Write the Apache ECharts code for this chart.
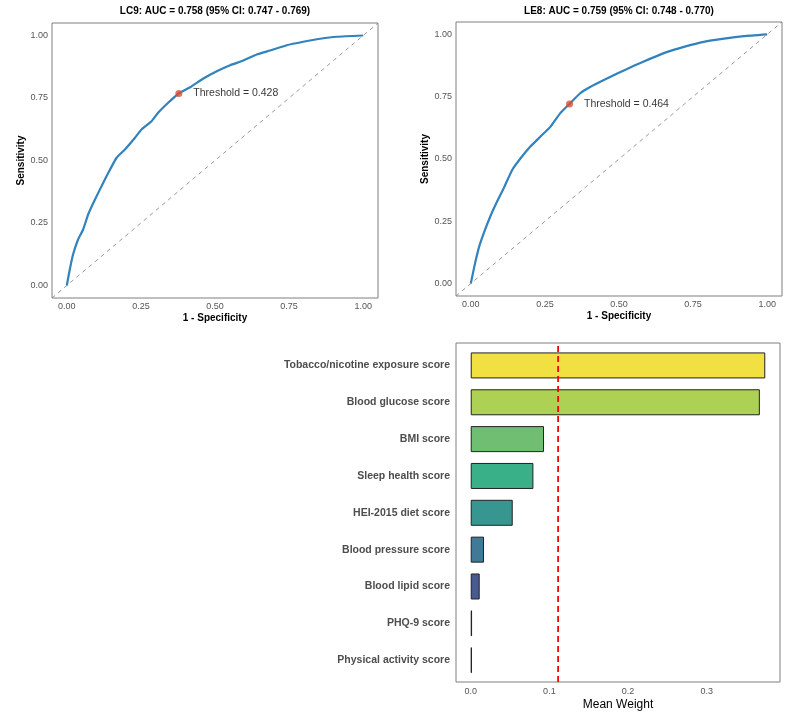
<!DOCTYPE html>
<html>
<head>
<meta charset="utf-8">
<script src="https://cdn.jsdelivr.net/npm/echarts@6/dist/echarts.min.js"></script>
<style>
    html, body { margin: 0; padding: 0; background: #fff; }
    #main { width: 787px; height: 724px; }
</style>
</head>
<body>
<div id="main"></div>
<script>
// ROC curve for LC9 (1 - specificity / sensitivity)
var lc9Fpr = [0, 0.010, 0.021, 0.038, 0.055, 0.072, 0.095, 0.123, 0.140, 0.168, 0.196, 0.230, 0.252, 0.286, 0.308, 0.342, 0.378, 0.416, 0.461, 0.506, 0.551, 0.596, 0.641, 0.686, 0.742, 0.798, 0.855, 0.911, 1];
var lc9Tpr = [0, 0.064, 0.124, 0.184, 0.224, 0.284, 0.344, 0.411, 0.451, 0.511, 0.544, 0.591, 0.624, 0.657, 0.691, 0.731, 0.768, 0.793, 0.828, 0.857, 0.881, 0.900, 0.924, 0.940, 0.961, 0.975, 0.987, 0.995, 1];
var lc9Cut = [0.378, 0.768];
var lc9Threshold = 0.428;
var lc9Title = 'LC9: AUC = 0.758 (95% CI: 0.747 - 0.769)';

// ROC curve for LE8
var le8Fpr = [0, 0.012, 0.027, 0.044, 0.066, 0.089, 0.111, 0.140, 0.168, 0.201, 0.235, 0.269, 0.302, 0.333, 0.369, 0.404, 0.449, 0.494, 0.550, 0.606, 0.663, 0.719, 0.786, 0.854, 0.921, 1];
var le8Tpr = [0, 0.069, 0.143, 0.203, 0.270, 0.330, 0.383, 0.457, 0.503, 0.550, 0.590, 0.630, 0.684, 0.721, 0.764, 0.790, 0.817, 0.843, 0.874, 0.903, 0.930, 0.950, 0.970, 0.983, 0.993, 1];
var le8Cut = [0.333, 0.721];
var le8Threshold = 0.464;
var le8Title = 'LE8: AUC = 0.759 (95% CI: 0.748 - 0.770)';

var rocTicks = [0, 0.25, 0.5, 0.75, 1];

// feature weights
var features = ['Tobacco/nicotine exposure score', 'Blood glucose score', 'BMI score', 'Sleep health score',
    'HEI-2015 diet score', 'Blood pressure score', 'Blood lipid score', 'PHQ-9 score', 'Physical activity score'];
var weights = [0.3745, 0.3676, 0.0932, 0.0797, 0.0534, 0.0169, 0.0114, 0.0017, 0.0015];
var barColors = ['#F0E042', '#ADD152', '#6FBE71', '#3AB089', '#37968F', '#407A96', '#485A8F', '#452E6E', '#421450'];
var weightTicks = [0, 0.1, 0.2, 0.3];

var FONT = 'Liberation Sans, Arial, sans-serif';

function zip(a, b) {
    var out = [];
    for (var i = 0; i < a.length; i++) out.push([a[i], b[i]]);
    return out;
}

var meanWeight = weights.reduce(function (s, v) { return s + v; }, 0) / weights.length;
var wMax = Math.max.apply(null, weights);
var wPad = wMax * 0.05;

var barData = weights.map(function (v, i) {
    return { value: v, itemStyle: { color: barColors[i] } };
});

function rocX(grid) {
    return {
        type: 'value', gridIndex: grid, min: -0.05, max: 1.05,
        axisLine: { show: false }, axisTick: { show: false }, splitLine: { show: false },
        axisLabel: { customValues: rocTicks, formatter: function (v) { return v.toFixed(2); }, fontSize: 9, color: '#555', margin: 4, fontFamily: FONT },
        name: '1 - Specificity', nameLocation: 'middle', nameGap: 15,
        nameTextStyle: { fontSize: 10, fontWeight: 'bold', color: '#000', fontFamily: FONT }
    };
}
function rocY(grid) {
    return {
        type: 'value', gridIndex: grid, min: -0.05, max: 1.05,
        axisLine: { show: false }, axisTick: { show: false }, splitLine: { show: false },
        axisLabel: { customValues: rocTicks, formatter: function (v) { return v.toFixed(2); }, fontSize: 9, color: '#555', margin: 4, fontFamily: FONT },
        name: 'Sensitivity', nameLocation: 'middle', nameGap: 23,
        nameTextStyle: { fontSize: 10, fontWeight: 'bold', color: '#000', fontFamily: FONT }
    };
}

function rocSeries(grid, fpr, tpr, cut, thr) {
    return [{
        // reference diagonal
        type: 'line', xAxisIndex: grid, yAxisIndex: grid, symbol: 'none', silent: true,
        data: [[-0.05, -0.05], [1.05, 1.05]],
        lineStyle: { color: '#8C8C8C', width: 0.9, type: [4, 4] }
    }, {
        type: 'line', xAxisIndex: grid, yAxisIndex: grid, symbol: 'none', smooth: 0.15,
        data: zip(fpr, tpr),
        lineStyle: { color: '#3182BD', width: 2.2 }
    }, {
        type: 'scatter', xAxisIndex: grid, yAxisIndex: grid, symbolSize: 7, z: 5,
        itemStyle: { color: '#DE4B33' },
        data: [cut],
        label: {
            show: true, position: 'right', distance: 11,
            formatter: 'Threshold = ' + thr.toFixed(3),
            fontSize: 10.5, color: '#000', fontFamily: FONT
        }
    }];
}

var chart = echarts.init(document.getElementById('main'));
var option = {
    animation: false,
    backgroundColor: '#fff',
    title: [{
        text: lc9Title, left: 215, top: 6, textAlign: 'center', padding: 0,
        textStyle: { fontSize: 10, fontWeight: 'bold', color: '#000', fontFamily: FONT }
    }, {
        text: le8Title, left: 619, top: 6, textAlign: 'center', padding: 0,
        textStyle: { fontSize: 10, fontWeight: 'bold', color: '#000', fontFamily: FONT }
    }],
    grid: [
        { left: 52, top: 23, width: 326, height: 275, show: true, borderColor: '#7F7F7F', borderWidth: 1 },
        { left: 456, top: 22, width: 326, height: 274, show: true, borderColor: '#7F7F7F', borderWidth: 1 },
        { left: 456, top: 343, width: 324, height: 339, show: true, borderColor: '#7F7F7F', borderWidth: 1 },
        { left: 456, top: 347, width: 324, height: 331.6 }
    ],
    xAxis: [
        rocX(0),
        rocX(1),
        {
            type: 'value', gridIndex: 2, min: -wPad, max: wMax + wPad,
            axisLine: { show: false }, axisTick: { show: false }, splitLine: { show: false },
            axisLabel: { customValues: weightTicks, formatter: function (v) { return v.toFixed(1); }, fontSize: 9, color: '#555', margin: 5, fontFamily: FONT },
            name: 'Mean Weight', nameLocation: 'middle', nameGap: 17,
            nameTextStyle: { fontSize: 12, color: '#000', fontFamily: FONT }
        },
        { type: 'value', gridIndex: 3, min: -wPad, max: wMax + wPad, show: false }
    ],
    yAxis: [
        rocY(0),
        rocY(1),
        { type: 'value', gridIndex: 2, min: 0, max: 1, show: false },
        {
            type: 'category', gridIndex: 3, data: features, inverse: true,
            axisLine: { show: false }, axisTick: { show: false }, splitLine: { show: false },
            axisLabel: { fontSize: 10.5, fontWeight: 'bold', color: '#4D4D4D', margin: 6, fontFamily: FONT }
        }
    ],
    series: rocSeries(0, lc9Fpr, lc9Tpr, lc9Cut, lc9Threshold)
        .concat(rocSeries(1, le8Fpr, le8Tpr, le8Cut, le8Threshold))
        .concat([{
            type: 'bar', xAxisIndex: 3, yAxisIndex: 3, barWidth: 26,
            data: barData,
            itemStyle: { borderColor: '#222', borderWidth: 1 }
        }, {
            // mean weight reference line
            type: 'line', xAxisIndex: 2, yAxisIndex: 2, symbol: 'none', z: 6, silent: true,
            data: [[meanWeight, 0], [meanWeight, 1]],
            lineStyle: { color: '#FF0000', width: 1.8, type: [6, 4] }
        }])
};
chart.setOption(option);
</script>
</body>
</html>
